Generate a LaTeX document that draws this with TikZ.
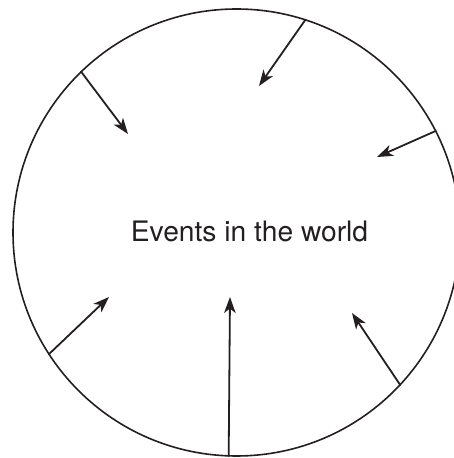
\documentclass[tikz,border=0pt]{standalone}
\usepackage{fontspec}
\setmainfont{TeX Gyre Heros}
\usetikzlibrary{arrows.meta}
\definecolor{ink}{HTML}{231F20}
\tikzset{
  ring/.style={circle,draw=ink,line width=1.6pt,minimum size=447pt,inner sep=0pt},
  inarrow/.style={draw=ink,line width=1.8pt,-{Stealth[length=16pt,width=11.5pt,inset=4.5pt]}},
  label/.style={text=ink,font=\fontsize{28.2}{30}\selectfont,anchor=base,inner sep=0pt}
}
\begin{document}
\begin{tikzpicture}[x=1pt,y=1pt]
\useasboundingbox (0,0) rectangle (454,458);
\node[ring] (world) at (236.5,225.5) {};
\node[label] (txt) at (249.5,216) {Events in the world};
\coordinate (e1) at (259,372);
\coordinate (e2) at (128,324);
\coordinate (e3) at (377,301);
\coordinate (e4) at (109,161);
\coordinate (e5) at (230,161);
\coordinate (e6) at (352,145);
\draw[inarrow] (world.72.5) -- (e1);
\draw[inarrow] (world.134.5) -- (e2);
\draw[inarrow] (world.27.7) -- (e3);
\draw[inarrow] (world.213.5) -- (e4);
\draw[inarrow] (world.268.5) -- (e5);
\draw[inarrow] (world.317.8) -- (e6);
\end{tikzpicture}
\end{document}
